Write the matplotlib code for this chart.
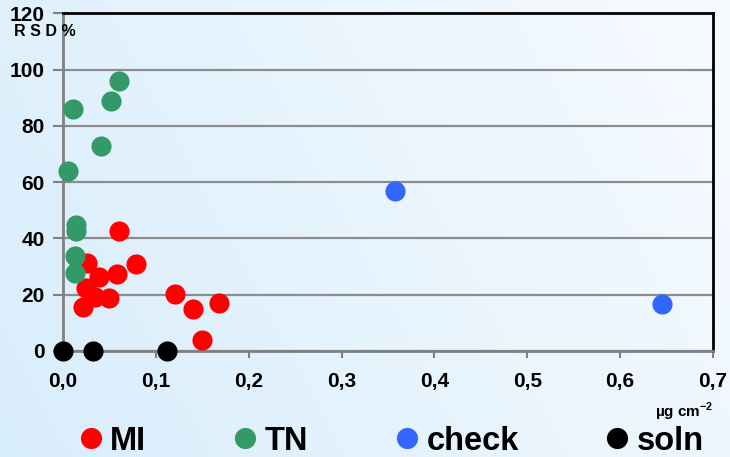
import numpy as np
import matplotlib
matplotlib.use("Agg")
from matplotlib import pyplot as plt
from matplotlib.ticker import FuncFormatter

plt.rcParams['font.family'] = ['Liberation Sans', 'DejaVu Sans']
plt.rcParams['font.weight'] = 'bold'
plt.rcParams['mathtext.fontset'] = 'custom'
plt.rcParams['mathtext.rm'] = 'Liberation Sans:bold'
plt.rcParams['mathtext.bf'] = 'Liberation Sans:bold'

# loading (ug cm-2) vs RSD%
mi_x = [0.060, 0.026, 0.039, 0.058, 0.079, 0.025, 0.034, 0.022, 0.050, 0.121, 0.140, 0.168, 0.150]
mi_y = [42.7, 31.2, 26.4, 27.3, 30.8, 22.3, 19.3, 15.7, 18.7, 20.3, 15.0, 17.2, 3.8]

tn_x = [0.0606, 0.052, 0.011, 0.041, 0.005, 0.0137, 0.0137, 0.0132, 0.0132]
tn_y = [96.0, 88.9, 86.1, 72.7, 64.1, 44.8, 42.7, 33.8, 27.8]

check_x = [0.358, 0.6455]
check_y = [57.0, 16.6]

soln_x = [0.0, 0.0326, 0.112]
soln_y = [0, 0, 0]

x_ticks = [0.0, 0.1, 0.2, 0.3, 0.4, 0.5, 0.6, 0.7]
y_ticks = [0, 20, 40, 60, 80, 100, 120]

fig = plt.figure(figsize=(7.3, 4.57), dpi=100)

# soft blue backdrop, fading to white on the right
bg = fig.add_axes([0, 0, 1, 1], zorder=-10)
gx, gy = np.meshgrid(np.linspace(0, 1, 300), np.linspace(0, 1, 200))
t = np.clip(0.75 * gx + 0.25 * (1 - gy), 0, 1)
c0 = np.array([216, 237, 252]) / 255
c1 = np.array([247, 251, 255]) / 255
img = c0[None, None, :] * (1 - t[..., None]) + c1[None, None, :] * t[..., None]
bg.imshow(img, aspect='auto', extent=[0, 1, 0, 1], origin='upper')
bg.axis('off')

ax = fig.add_axes([63 / 730, 1 - 351 / 457, 650 / 730, (351 - 13.3) / 457])
ax.set_facecolor('none')

ms = 14.5
ax.plot(mi_x, mi_y, 'o', color='#ff0000', ms=ms, mec='none', clip_on=False, zorder=3, label='MI')
ax.plot(tn_x, tn_y, 'o', color='#339966', ms=ms, mec='none', clip_on=False, zorder=4, label='TN')
ax.plot(check_x, check_y, 'o', color='#3366ff', ms=ms, mec='none', clip_on=False, zorder=3, label='check')
ax.plot(soln_x, soln_y, 'o', color='#000000', ms=ms, mec='none', clip_on=False, zorder=5, label='soln')

ax.set_xlim(0, 0.7)
ax.set_ylim(0, 120)
ax.set_xticks(x_ticks)
ax.set_yticks(y_ticks)
ax.xaxis.set_major_formatter(FuncFormatter(lambda v, p: ('%.1f' % v).replace('.', ',')))

ax.grid(axis='y', color='#8c8c8c', lw=1.6)
ax.set_axisbelow(True)
for s in ['left', 'bottom']:
    ax.spines[s].set_color('#808080')
    ax.spines[s].set_linewidth(2)
for s in ['top', 'right']:
    ax.spines[s].set_color('black')
    ax.spines[s].set_linewidth(2)

ax.tick_params(axis='x', length=5, width=1.5, color='#808080', pad=10, labelsize=15)
ax.tick_params(axis='y', length=7, width=1.5, color='#808080', pad=6, labelsize=15)
for lab in ax.get_xticklabels() + ax.get_yticklabels():
    lab.set_fontweight('bold')

fig.text(14 / 730, 1 - 31 / 457, 'R S D %', fontsize=11.5, fontweight='bold', va='center', ha='left')
fig.text(713 / 730, 1 - 412 / 457, 'µg cm$^{-2}$', fontsize=11, fontweight='bold', va='center', ha='right')

leg = fig.legend(loc='center left', bbox_to_anchor=(81 / 730, 1 - 441 / 457), ncol=4,
                 frameon=False, handlelength=0.6, handletextpad=0.3,
                 columnspacing=2.72, borderpad=0, borderaxespad=0, markerscale=1.05,
                 prop={'weight': 'bold', 'size': 23.5})

fig.savefig('out.png', dpi=100)
